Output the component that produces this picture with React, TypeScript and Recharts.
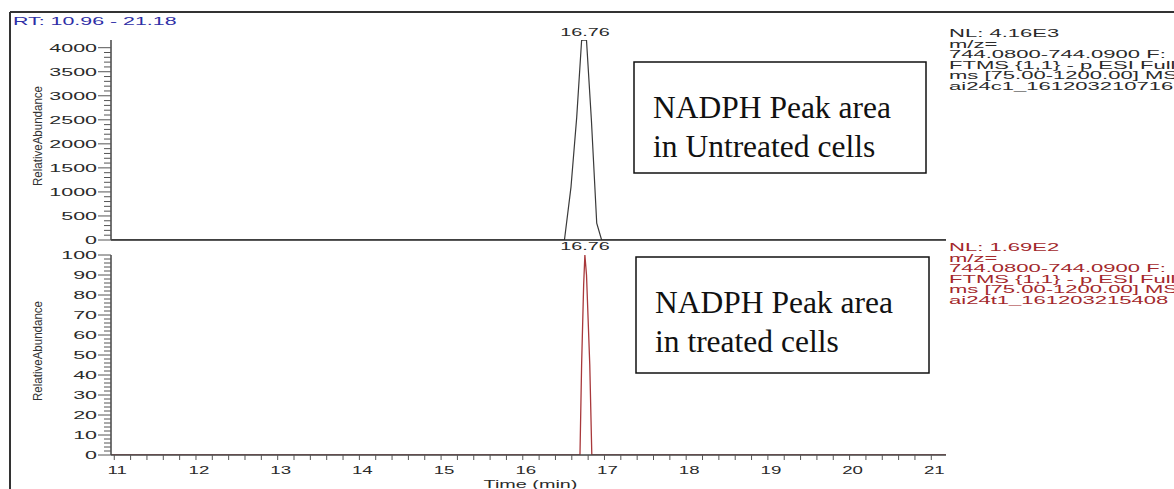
import React from "react";
import { LineChart, Line, XAxis, YAxis, ReferenceDot } from "recharts";

// retention time window shown on both traces (min)
const timeWindow = [10.96, 21.18];

// untreated cells: absolute intensity
const untreatedTime = [10.96, 16.51, 16.59, 16.66, 16.72, 16.76, 16.78, 16.84, 16.905, 16.965, 21.18];
const untreatedSignal = [0, 0, 1100, 2550, 4150, 4160, 4150, 2490, 350, 0, 0];

// treated cells: relative abundance
const treatedTime = [10.96, 16.7, 16.72, 16.745, 16.76, 16.78, 16.82, 16.845, 21.18];
const treatedSignal = [0, 0, 45, 85, 100, 90, 45, 0, 0];

const apexTime = 16.76;
const untreatedApex = 4160;
const treatedApex = 100;

const untreatedYTicks = [0, 500, 1000, 1500, 2000, 2500, 3000, 3500, 4000];
const treatedYTicks = [0, 10, 20, 30, 40, 50, 60, 70, 80, 90, 100];
const timeTicks = [11, 12, 13, 14, 15, 16, 17, 18, 19, 20, 21];

const untreatedInfo = [
  "NL: 4.16E3",
  "m/z=",
  "744.0800-744.0900 F:",
  "FTMS {1,1} - p ESI Full",
  "ms [75.00-1200.00]  MS",
  "ai24c1_161203210716",
];
const treatedInfo = [
  "NL: 1.69E2",
  "m/z=",
  "744.0800-744.0900 F:",
  "FTMS {1,1} - p ESI Full",
  "ms [75.00-1200.00]  MS",
  "ai24t1_161203215408",
];

const untreatedData = untreatedTime.map((t, i) => ({ t, v: untreatedSignal[i] }));
const treatedData = treatedTime.map((t, i) => ({ t, v: treatedSignal[i] }));

const SANS = "'Liberation Sans', Arial, sans-serif";
const SERIF = "'Liberation Serif', 'Times New Roman', serif";
const TRACE_RED = "#a8383b";

// majors plus evenly split minor ticks between them
function withMinors(majors: number[], parts: number) {
  const out: number[] = [];
  majors.forEach((m, i) => {
    out.push(m);
    const next = majors[i + 1];
    if (next === undefined) return;
    for (let k = 1; k < parts; k++) out.push(+(m + ((next - m) * k) / parts).toFixed(4));
  });
  return out;
}

function isMajor(v: number, majors: number[]) {
  return majors.some((m) => Math.abs(m - v) < 1e-6);
}

// the instrument export is wide-stretched Helvetica
function WideText({ x, y, sx = 1.85, size = 11.5, fill = "#2a2a2a", anchor = "start", children }: any) {
  return (
    <text
      transform={`translate(${x},${y}) scale(${sx},1)`}
      textAnchor={anchor}
      fontSize={size}
      fontFamily={SANS}
      fill={fill}
    >
      {children}
    </text>
  );
}

function LeftTick({ x, y, payload, majors }: any) {
  const major = isMajor(payload.value, majors);
  return (
    <g>
      <line x1={x - (major ? 13 : 7)} x2={x} y1={y} y2={y} stroke="#555" strokeWidth={1} />
      {major && (
        <WideText x={x - 14} y={y + 4} anchor="end" size={11} sx={1.95}>
          {payload.value}
        </WideText>
      )}
    </g>
  );
}

function TimeTick({ x, y, payload }: any) {
  const major = isMajor(payload.value, timeTicks);
  return (
    <g>
      <line x1={x} x2={x} y1={y} y2={y + 5} stroke="#555" strokeWidth={1} />
      {major && (
        <WideText x={x + 3} y={y + 19} anchor="middle" size={11} sx={1.7}>
          {payload.value}
        </WideText>
      )}
    </g>
  );
}

function AbundanceTitle({ viewBox }: any) {
  const cy = viewBox.y + viewBox.height / 2 - 4;
  return (
    <text
      transform={`translate(42,${cy}) rotate(-90) scale(1,1.6)`}
      textAnchor="middle"
      fontSize={8}
      fontFamily={SANS}
      fill="#333"
      textLength={100}
      lengthAdjust="spacingAndGlyphs"
    >
      RelativeAbundance
    </text>
  );
}

function TimeTitle({ viewBox }: any) {
  return (
    <WideText x={viewBox.x + viewBox.width / 2 + 2} y={viewBox.y + 33} anchor="middle" size={11} sx={1.8}>
      Time (min)
    </WideText>
  );
}

function ApexLabel({ viewBox, lift }: any) {
  return (
    <WideText x={viewBox.x} y={viewBox.y - lift} anchor="middle" size={11} sx={1.8}>
      {apexTime.toFixed(2)}
    </WideText>
  );
}

function InfoBlock({ lines, y, color }: { lines: string[]; y: number; color: string }) {
  return (
    <g>
      {lines.map((s, i) => (
        <WideText key={i} x={949} y={y + i * 10.6} size={10.5} sx={2.1} fill={color}>
          {s}
        </WideText>
      ))}
    </g>
  );
}

function NoteBox({ x, y, w, h, lines }: { x: number; y: number; w: number; h: number; lines: string[] }) {
  return (
    <g>
      <rect x={x} y={y} width={w} height={h} fill="#fff" stroke="#111" strokeWidth={1.5} />
      {lines.map((s, i) => (
        <text key={i} x={x + 19} y={y + 56 + i * 39} fontSize={31.5} fontFamily={SERIF} fill="#111">
          {s}
        </text>
      ))}
    </g>
  );
}

const W = 1174;
const H = 489;

export default function App() {
  return (
    <div style={{ position: "absolute", left: 0, top: 0, width: W, height: H, background: "#fff", overflow: "hidden" }}>
      {/* untreated trace */}
      <div style={{ position: "absolute", left: 0, top: 0 }}>
        <LineChart width={W} height={H} data={untreatedData} margin={{ top: 40, right: 228, bottom: 229, left: 0 }}>
          <XAxis
            dataKey="t"
            type="number"
            domain={timeWindow}
            allowDataOverflow
            height={20}
            tick={false}
            tickLine={false}
            axisLine={{ stroke: "#222", strokeWidth: 1.5 }}
          />
          <YAxis
            type="number"
            domain={[0, untreatedApex]}
            allowDataOverflow
            width={111}
            ticks={withMinors(untreatedYTicks, 5)}
            interval={0}
            tickSize={0}
            tickMargin={0}
            tickLine={false}
            tick={(p: any) => <LeftTick {...p} majors={untreatedYTicks} />}
            axisLine={{ stroke: "#444", strokeWidth: 1.5 }}
            label={<AbundanceTitle />}
          />
          <Line dataKey="v" type="linear" stroke="#3a3a3a" strokeWidth={1.2} dot={false} isAnimationActive={false} />
          <ReferenceDot x={apexTime} y={untreatedApex} r={0} fill="none" stroke="none" label={<ApexLabel lift={4} />} />
        </LineChart>
      </div>

      {/* treated trace */}
      <div style={{ position: "absolute", left: 0, top: 0 }}>
        <LineChart width={W} height={H} data={treatedData} margin={{ top: 255, right: 228, bottom: 0, left: 0 }}>
          <XAxis
            dataKey="t"
            type="number"
            domain={timeWindow}
            allowDataOverflow
            height={34}
            ticks={withMinors(timeTicks, 5)}
            interval={0}
            tickSize={0}
            tickMargin={0}
            tickLine={false}
            tick={(p: any) => <TimeTick {...p} />}
            axisLine={{ stroke: "#444", strokeWidth: 1.5 }}
            label={<TimeTitle />}
          />
          <YAxis
            type="number"
            domain={[0, treatedApex]}
            allowDataOverflow
            width={111}
            ticks={withMinors(treatedYTicks, 5)}
            interval={0}
            tickSize={0}
            tickMargin={0}
            tickLine={false}
            tick={(p: any) => <LeftTick {...p} majors={treatedYTicks} />}
            axisLine={{ stroke: "#444", strokeWidth: 1.5 }}
            label={<AbundanceTitle />}
          />
          <Line dataKey="v" type="linear" stroke={TRACE_RED} strokeWidth={1.3} dot={false} isAnimationActive={false} />
          <ReferenceDot x={apexTime} y={treatedApex} r={0} fill="none" stroke="none" label={<ApexLabel lift={5} />} />
        </LineChart>
      </div>

      {/* frame, header and annotation boxes */}
      <svg width={W} height={H} style={{ position: "absolute", left: 0, top: 0, pointerEvents: "none" }}>
        <line x1={10} y1={12} x2={W} y2={12} stroke="#333" strokeWidth={2} />
        <line x1={10} y1={12} x2={10} y2={H} stroke="#333" strokeWidth={2} />
        <WideText x={13} y={25} size={11.5} sx={1.86} fill="#2e2ea6">
          RT:  10.96 - 21.18
        </WideText>
        <InfoBlock lines={untreatedInfo} y={37} color="#2a2a2a" />
        <InfoBlock lines={treatedInfo} y={251} color="#a3282c" />
        <NoteBox x={634} y={62} w={292} h={111} lines={["NADPH Peak area", "in Untreated cells"]} />
        <NoteBox x={636} y={257} w={293} h={116} lines={["NADPH Peak area", "in treated cells"]} />
      </svg>
    </div>
  );
}
